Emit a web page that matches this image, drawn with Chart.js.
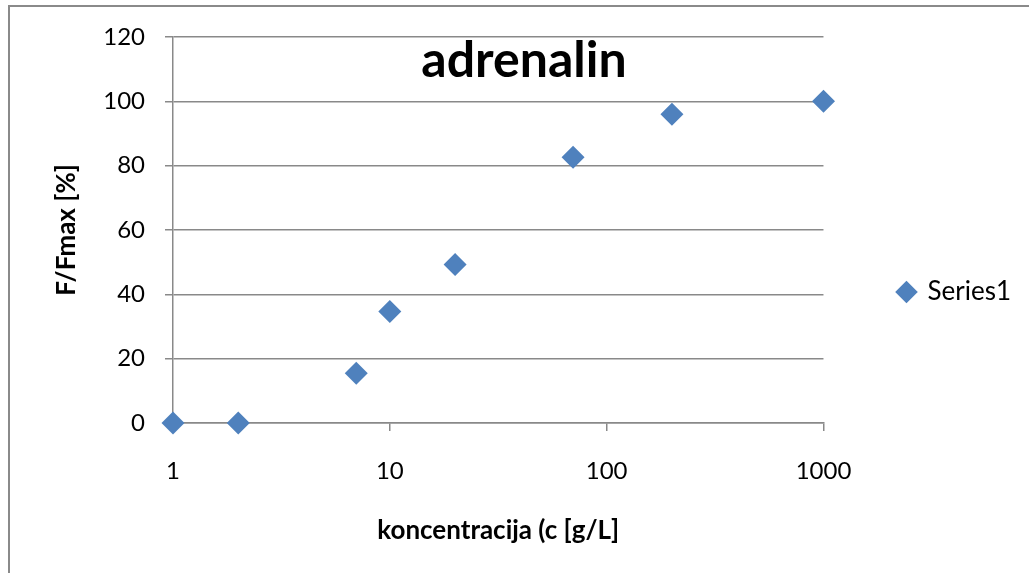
<!DOCTYPE html>
<html>
<head>
<meta charset="utf-8">
<script src="https://cdn.jsdelivr.net/npm/chart.js"></script>
<style>
  html, body { margin: 0; padding: 0; background: #fff; overflow: hidden; }
  #frame { position: absolute; left: 8px; top: 5px; width: 1100px; height: 700px; border: 2px solid #8a8a8a; }
  #wrap { position: absolute; left: 0; top: 0; width: 1029px; height: 573px; }
</style>
</head>
<body>
<div id="frame"></div>
<div id="wrap"><canvas id="adrenalin" width="1029" height="573"></canvas></div>
<script>
// concentration (g/L) and F/Fmax (%)
const concentrations = [1, 2, 7, 10, 20, 70, 200, 1000];
const response = [0, 0, 15.5, 34.7, 49.3, 82.6, 96, 100];
const xTicks = [1, 10, 100, 1000];
const seriesName = "Series1";
const chartTitle = "adrenalin";

const gray = "#898989";
const fontFamily = "Lato, 'Open Sans', sans-serif";

// title sits inside the plot area like the Excel original
const insideTitle = {
  id: "insideTitle",
  afterDraw(chart) {
    const ctx = chart.ctx;
    ctx.save();
    ctx.font = "bold 50px " + fontFamily;
    ctx.fillStyle = "#000";
    ctx.textAlign = "center";
    ctx.textBaseline = "alphabetic";
    ctx.fillText(chartTitle, 524, chart.chartArea.top + 40);
    ctx.restore();
  }
};

const ctx = document.getElementById("adrenalin").getContext("2d");
new Chart(ctx, {
  type: "scatter",
  data: {
    datasets: [
      {
        label: seriesName,
        data: concentrations.map((c, i) => ({ x: c, y: response[i] })),
        pointStyle: "rectRot",
        pointRadius: 11.5,
        pointHoverRadius: 11.5,
        backgroundColor: "#4F81BD",
        borderColor: "#4F81BD",
        borderWidth: 0,
        clip: false
      }
    ]
  },
  options: {
    responsive: false,
    animation: false,
    layout: { padding: { top: 37, right: 8, bottom: 26, left: 0 } },
    plugins: {
      tooltip: { enabled: false },
      legend: {
        position: "right",
        labels: {
          usePointStyle: true,
          boxWidth: 16,
          boxHeight: 16,
          padding: 75,
          color: "#000",
          font: { family: fontFamily, size: 26 }
        }
      }
    },
    scales: {
      x: {
        type: "logarithmic",
        min: 1,
        max: 1000,
        afterBuildTicks: scale => {
          scale.ticks = xTicks.map(v => ({ value: v }));
        },
        afterFit: scale => {
          scale.height = 124;
        },
        ticks: {
          padding: 26,
          color: "#000",
          font: { family: fontFamily, size: 24 },
          callback: v => String(v)
        },
        grid: {
          drawOnChartArea: false,
          drawTicks: true,
          tickLength: 8,
          color: gray,
          lineWidth: 1.5
        },
        border: { color: gray, width: 1.5 },
        title: {
          display: true,
          text: "koncentracija (c [g/L]",
          color: "#000",
          font: { family: fontFamily, size: 26, weight: "bold" },
          padding: { top: 0, bottom: 1 }
        }
      },
      y: {
        min: 0,
        max: 120,
        afterFit: scale => {
          scale.width = 173;
        },
        ticks: {
          stepSize: 20,
          padding: 20,
          color: "#000",
          font: { family: fontFamily, size: 24 }
        },
        grid: {
          drawTicks: true,
          tickLength: 8,
          color: gray,
          lineWidth: 1.5
        },
        border: { color: gray, width: 1.5 },
        title: {
          display: true,
          text: "F/Fmax [%]",
          color: "#000",
          font: { family: fontFamily, size: 26, weight: "bold" },
          padding: { top: 51, bottom: 0 }
        }
      }
    }
  },
  plugins: [insideTitle]
});
</script>
</body>
</html>
